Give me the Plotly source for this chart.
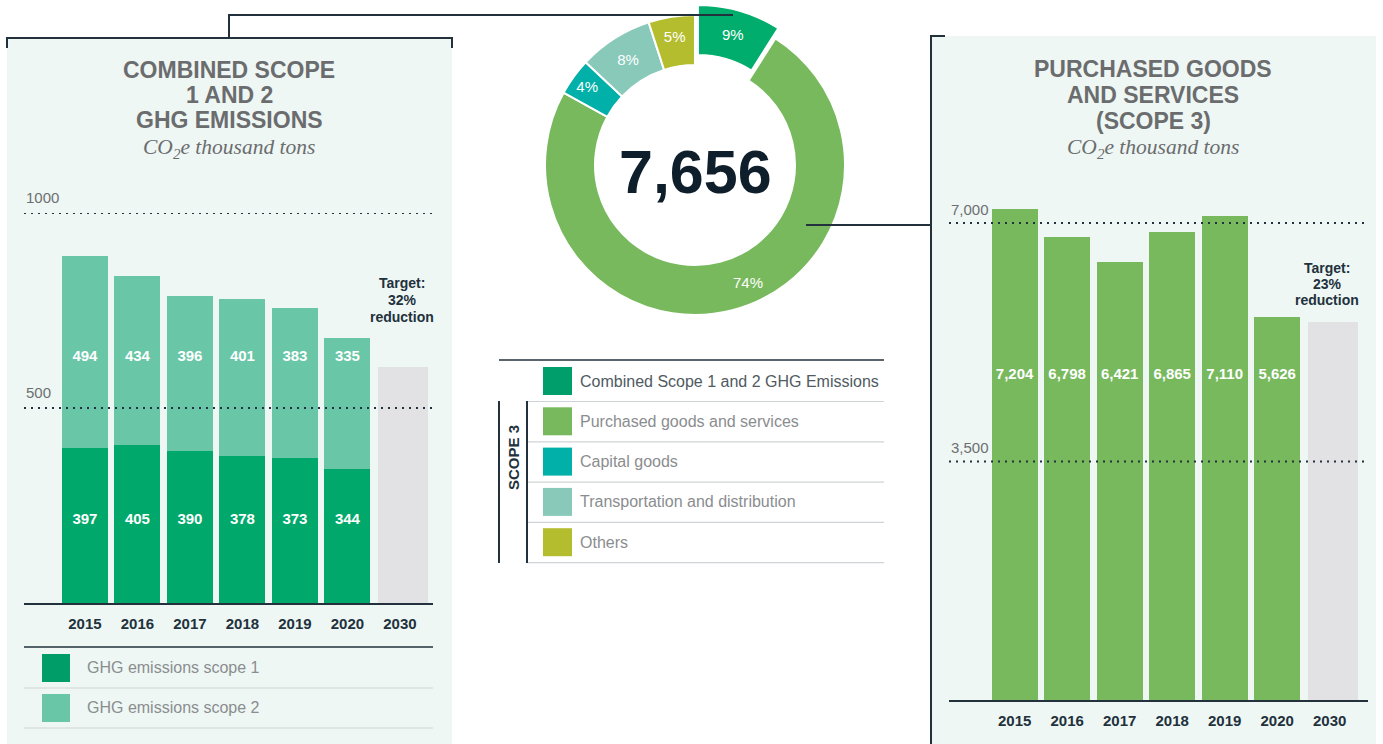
import plotly.graph_objects as go

W, H = 1383, 744
def X(px): return px / W
def Y(py): return 1 - py / H

# ---------------- data ----------------
years_hist = ["2015", "2016", "2017", "2018", "2019", "2020"]
target_year = "2030"
scope1 = [397, 405, 390, 378, 373, 344]
scope2 = [494, 434, 396, 401, 383, 335]
scope12_target_2030 = 606
purchased = [7204, 6798, 6421, 6865, 7110, 5626]
purchased_target_2030 = 5547
donut_labels = ["Combined Scope 1 and 2 GHG Emissions", "Purchased goods and services",
                "Capital goods", "Transportation and distribution", "Others"]
donut_pct = [9, 74, 4, 8, 5]
donut_total = "7,656"
left_ticks = [500, 1000]
right_ticks = [3500, 7000]
left_target_text = ["Target:", "32%", "reduction"]
right_target_text = ["Target:", "23%", "reduction"]
left_title = ["COMBINED SCOPE", "1 AND 2", "GHG EMISSIONS"]
right_title = ["PURCHASED GOODS", "AND SERVICES", "(SCOPE 3)"]
subtitle = "CO<sub>2</sub>e thousand tons"
left_legend = ["GHG emissions scope 1", "GHG emissions scope 2"]

# ---------------- style ----------------
C_S1 = "#00a96b"
C_S2 = "#69c6a7"
C_GREY = "#e2e2e4"
C_PGS = "#77b95c"
C_CAP = "#00b0a9"
C_TRANS = "#88c9ba"
C_OTH = "#b4bd2d"
C_COMB = "#00ad6c"
PANEL = "#eef7f4"
DARK = "#22313c"
TITLE_GREY = "#6b6c6e"
LIGHT_TEXT = "#8a8d8f"
SANS = "Liberation Sans, Arial, sans-serif"
SERIF = "Liberation Serif, DejaVu Serif, serif"

cats = years_hist + [target_year]

fig = go.Figure()

# left stacked bars
fig.add_trace(go.Bar(x=years_hist, y=scope1, marker=dict(color=C_S1, line=dict(width=0)),
                     xaxis="x", yaxis="y", hoverinfo="skip", name=left_legend[0]))
fig.add_trace(go.Bar(x=years_hist, y=scope2, marker=dict(color=C_S2, line=dict(width=0)),
                     xaxis="x", yaxis="y", hoverinfo="skip", name=left_legend[1]))
fig.add_trace(go.Bar(x=[target_year], y=[scope12_target_2030], width=0.952, offset=-0.42,
                     marker=dict(color=C_GREY, line=dict(width=0)),
                     xaxis="x", yaxis="y", hoverinfo="skip"))
fig.add_trace(go.Scatter(x=years_hist, y=[213] * len(years_hist), mode="text",
                         text=[str(v) for v in scope1], cliponaxis=False,
                         textfont=dict(color="white", size=15, family=SANS, weight="bold"),
                         xaxis="x", yaxis="y", hoverinfo="skip"))
fig.add_trace(go.Scatter(x=years_hist, y=[631] * len(years_hist), mode="text",
                         text=[str(v) for v in scope2], cliponaxis=False,
                         textfont=dict(color="white", size=15, family=SANS, weight="bold"),
                         xaxis="x", yaxis="y", hoverinfo="skip"))

# right bars
fig.add_trace(go.Bar(x=years_hist, y=purchased, marker=dict(color=C_PGS, line=dict(width=0)),
                     xaxis="x2", yaxis="y2", hoverinfo="skip"))
fig.add_trace(go.Bar(x=[target_year], y=[purchased_target_2030], width=0.952, offset=-0.42,
                     marker=dict(color=C_GREY, line=dict(width=0)),
                     xaxis="x2", yaxis="y2", hoverinfo="skip"))
fig.add_trace(go.Scatter(x=years_hist, y=[4770] * len(years_hist), mode="text",
                         text=[f"{v:,}" for v in purchased], cliponaxis=False,
                         textfont=dict(color="white", size=15, family=SANS, weight="bold"),
                         xaxis="x2", yaxis="y2", hoverinfo="skip"))

# donut
pull_frac = 0.07
r_px = 150
D = 2 * r_px * (1 + pull_frac)
cx, cy = 695, 165
pie_text = [f"{v}%" if i != 1 else "" for i, v in enumerate(donut_pct)]
fig.add_trace(go.Pie(labels=donut_labels, values=donut_pct, sort=False, direction="clockwise",
                     rotation=0, hole=100 / 150, pull=[pull_frac, 0, 0, 0, 0],
                     marker=dict(colors=[C_COMB, C_PGS, C_CAP, C_TRANS, C_OTH],
                                 line=dict(color="white", width=2)),
                     text=pie_text, textinfo="text", textposition="inside",
                     insidetextorientation="horizontal",
                     textfont=dict(color="white", size=15, family=SANS),
                     domain=dict(x=[X(cx - D / 2), X(cx + D / 2)], y=[Y(cy + D / 2), Y(cy - D / 2)]),
                     hoverinfo="skip", showlegend=False))

shapes = []
ann = []

def line(x0, y0, x1, y1, color=DARK, width=2, dash=None, layer="above"):
    d = dict(type="line", xref="paper", yref="paper", x0=X(x0), y0=Y(y0), x1=X(x1), y1=Y(y1),
             line=dict(color=color, width=width), layer=layer)
    if dash:
        d["line"]["dash"] = dash
    shapes.append(d)

def rect(x0, y0, x1, y1, color, layer="below"):
    shapes.append(dict(type="rect", xref="paper", yref="paper", x0=X(x0), y0=Y(y0), x1=X(x1), y1=Y(y1),
                       fillcolor=color, line=dict(width=0), layer=layer))

def text(x, y, s, size=14, color=DARK, family=SANS, weight="normal", xanchor="center", style="normal",
         textangle=0):
    ann.append(dict(xref="paper", yref="paper", x=X(x), y=Y(y), text=s, showarrow=False,
                    xanchor=xanchor, yanchor="middle", textangle=textangle,
                    font=dict(size=size, color=color, family=family, weight=weight, style=style)))

# panels
rect(7, 38, 452, 744, PANEL)
rect(931, 36, 1376, 744, PANEL)

# connectors / borders
line(7, 38, 452, 38)
line(7, 37, 7, 48)
line(452, 37, 452, 48)
line(229, 15, 229, 38)
line(228, 15, 733, 15)
line(806, 225, 931, 225)
line(931, 36, 931, 744)
line(930, 36, 945, 36)

# titles
for i, s in enumerate(left_title):
    text(229, 70 + 25 * i, s, size=23, color=TITLE_GREY, weight="bold")
text(229, 148, subtitle, size=21.5, color=TITLE_GREY, family=SERIF, style="italic")
for i, s in enumerate(right_title):
    text(1153, 69 + 26 * i, s, size=23, color=TITLE_GREY, weight="bold")
text(1153, 148, subtitle, size=21.5, color=TITLE_GREY, family=SERIF, style="italic")

# gridlines (dotted, above bars) and labels
for t in left_ticks:
    shapes.append(dict(type="line", xref="paper", yref="y", x0=X(24), x1=X(433), y0=t, y1=t,
                       line=dict(color=DARK, width=2, dash="2px,5px"), layer="above"))
    ann.append(dict(xref="paper", yref="y", x=X(24), y=t, text=str(t), showarrow=False,
                    xanchor="left", yanchor="bottom", yshift=5,
                    font=dict(size=15, color="#6d6f71", family=SANS)))
for t in right_ticks:
    shapes.append(dict(type="line", xref="paper", yref="y2", x0=X(949), x1=X(1368), y0=t, y1=t,
                       line=dict(color=DARK, width=2, dash="2px,5px"), layer="above"))
    ann.append(dict(xref="paper", yref="y2", x=X(949), y=t, text=f"{t:,}", showarrow=False,
                    xanchor="left", yanchor="bottom", yshift=3,
                    font=dict(size=15, color="#6d6f71", family=SANS)))

# target texts
for i, s in enumerate(left_target_text):
    text(402, 283 + 17 * i, s, size=14, color=DARK, weight="bold")
for i, s in enumerate(right_target_text):
    text(1327, 268 + 16 * i, s, size=14, color=DARK, weight="bold")

# donut center total and large-slice label
text(cx, 172, donut_total, size=61, color="#0f1e2b", weight="bold")
text(748, 282, f"{donut_pct[1]}%", size=15, color="white")

# left legend
line(24, 647, 433, 647, width=1.5)
for i, s in enumerate(left_legend):
    yc = 668 + 40 * i
    rect(42, yc - 14, 70, yc + 14, "#009d69" if i == 0 else C_S2, layer="above")
    text(85, yc - 1, s, size=16, color=LIGHT_TEXT, xanchor="left")
    line(24, yc + 20, 433, yc + 20, color="#cfd6d6", width=1.2)

# center legend
line(499, 360, 884, 360, width=1.5)
leg_colors = ["#009e6a", C_PGS, C_CAP, C_TRANS, C_OTH]
for i, s in enumerate(donut_labels):
    yc = 381 + 40.3 * i
    rect(543, yc - 14, 572, yc + 14, leg_colors[i], layer="above")
    text(578, yc, s, size=16, color="#4f5a61" if i == 0 else LIGHT_TEXT, xanchor="left")
    line(527, yc + 20.5, 884, yc + 20.5, color="#cfd4d6", width=1.2)
line(499, 401, 499, 563, width=2)
line(527, 401, 527, 563, width=2)
text(513, 458, "SCOPE 3", size=15, color=DARK, weight="bold", textangle=-90)

# right y axis: extend range so tall bars are not clipped
r_top_val = 7500
r_top_px = 700 - (700 - 223) * r_top_val / 7000

fig.update_layout(
    width=W, height=H, margin=dict(l=0, r=0, t=0, b=0),
    paper_bgcolor="white", plot_bgcolor="rgba(0,0,0,0)",
    barmode="stack", bargap=0.124, showlegend=False,
    shapes=shapes, annotations=ann,
    xaxis=dict(domain=[X(24), X(433)], range=[-1.16, 6.63], type="category",
               categoryorder="array", categoryarray=cats, anchor="y",
               showline=True, linecolor=DARK, linewidth=2, ticks="", showgrid=False, zeroline=False,
               tickfont=dict(size=15, color=DARK, family=SANS, weight="bold"), ticklabelstandoff=6),
    yaxis=dict(domain=[Y(603), Y(213)], range=[0, 1000], visible=False, anchor="x"),
    xaxis2=dict(domain=[X(949), X(1368)], range=[-1.25, 6.73], type="category",
                categoryorder="array", categoryarray=cats, anchor="y2",
                showline=True, linecolor=DARK, linewidth=2, ticks="", showgrid=False, zeroline=False,
                tickfont=dict(size=15, color=DARK, family=SANS, weight="bold"), ticklabelstandoff=6),
    yaxis2=dict(domain=[Y(700), Y(r_top_px)], range=[0, r_top_val], visible=False, anchor="x2"),
)

fig.write_html("out.html", config={"displayModeBar": False},
               post_script="document.body.style.margin='0';document.body.style.overflow='hidden';")
